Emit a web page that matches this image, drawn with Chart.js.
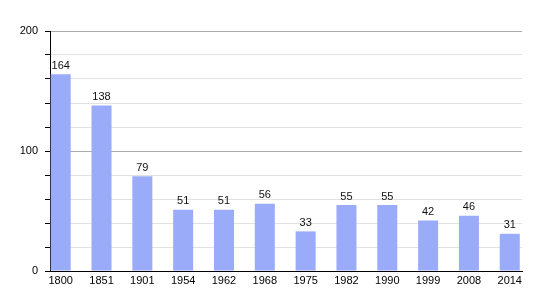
<!DOCTYPE html>
<html>
<head>
<meta charset="utf-8">
<script src="https://cdn.jsdelivr.net/npm/chart.js@4/dist/chart.umd.min.js"></script>
<style>
  html, body { margin: 0; padding: 0; background: #fff; }
  #wrap { width: 550px; height: 300px; }
</style>
</head>
<body>
<div id="wrap"><canvas id="grafico" width="550" height="300"></canvas></div>
<script>
// Années et population
const annees = ['1800', '1851', '1901', '1954', '1962', '1968', '1975', '1982', '1990', '1999', '2008', '2014'];
const population = [164, 138, 79, 51, 51, 56, 33, 55, 55, 42, 46, 31];
const yTicksPrincipaux = [0, 100, 200];

Chart.defaults.font.family = '"Liberation Sans", Arial, sans-serif';
Chart.defaults.font.size = 11;
Chart.defaults.color = '#000';

// valeurs au-dessus des barres
const etiquettes = {
    id: 'etiquettes',
    afterDatasetsDraw(chart) {
        const ctx = chart.ctx;
        const meta = chart.getDatasetMeta(0);
        ctx.save();
        ctx.font = '11px "Liberation Sans", Arial, sans-serif';
        ctx.fillStyle = '#111';
        ctx.textAlign = 'center';
        ctx.textBaseline = 'bottom';
        meta.data.forEach((bar, i) => {
            ctx.fillText(String(population[i]), bar.x, bar.y - 3);
        });
        ctx.restore();
    }
};

const grafico = new Chart(document.getElementById('grafico'), {
    type: 'bar',
    data: {
        datasets: [{
            data: population.map((v, i) => ({ x: i, y: v })),
            backgroundColor: '#9aabf9',
            borderWidth: 0,
            barPercentage: 0.49,
            categoryPercentage: 1
        }]
    },
    options: {
        responsive: false,
        animation: false,
        layout: { padding: { top: 31, right: 28, left: 0, bottom: 0 } },
        plugins: {
            legend: { display: false },
            tooltip: { enabled: false }
        },
        scales: {
            x: {
                type: 'linear',
                offset: false,
                min: -0.262,
                max: 11.3,
                afterFit(scale) { scale.height = 29; },
                grid: { display: false, drawTicks: false, offset: false },
                border: { display: true, color: '#000', width: 1 },
                ticks: {
                    stepSize: 1,
                    includeBounds: false,
                    maxTicksLimit: 20,
                    autoSkip: false,
                    maxRotation: 0,
                    padding: 3,
                    callback: v => annees[v] !== undefined && Number.isInteger(v) ? annees[v] : ''
                }
            },
            y: {
                min: 0,
                max: 200,
                afterFit(scale) { scale.width = 50; },
                grid: {
                    color: ctx => ctx.tick.value === 0 ? '#000' : (ctx.tick.value % 100 === 0 ? '#aaaaaa' : '#e2e2e2'),
                    tickColor: '#000',
                    tickLength: 5,
                    lineWidth: 1
                },
                border: { display: true, color: '#000', width: 1 },
                ticks: {
                    stepSize: 20,
                    padding: 7,
                    callback: v => yTicksPrincipaux.includes(v) ? v : ''
                }
            }
        }
    },
    plugins: [etiquettes]
});
</script>
</body>
</html>
